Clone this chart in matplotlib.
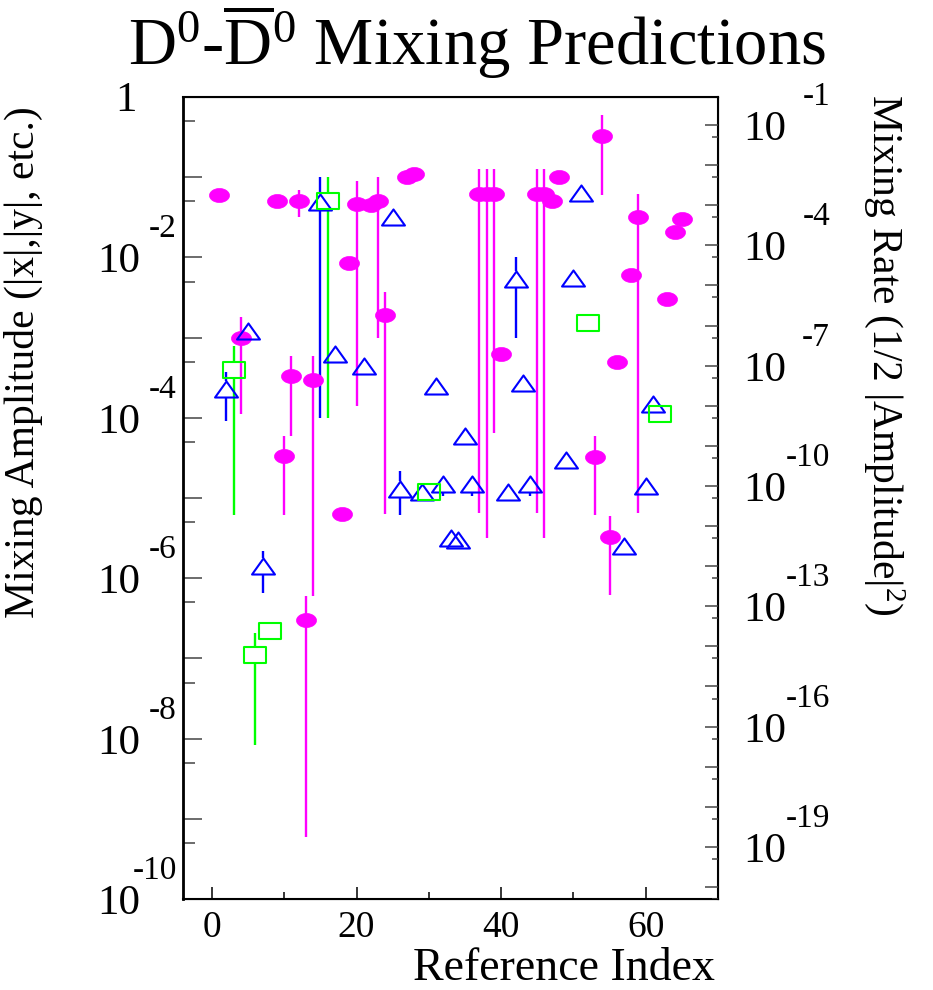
import numpy as np
import matplotlib
matplotlib.use('Agg')
import matplotlib.pyplot as plt
from matplotlib.path import Path
from matplotlib.ticker import FixedLocator, NullFormatter
from matplotlib.transforms import blended_transform_factory, offset_copy

plt.rcParams['font.family'] = ['Liberation Serif', 'DejaVu Serif']
plt.rcParams['mathtext.fontset'] = 'custom'
plt.rcParams['mathtext.rm'] = 'Liberation Serif'
plt.rcParams['mathtext.it'] = 'Liberation Serif:italic'
plt.rcParams['mathtext.bf'] = 'Liberation Serif:bold'

nan = np.nan

# magenta filled points: index, amplitude, error low / high (nan = none)
mag_x = [1, 4, 9, 10, 11, 12, 13, 14, 18, 19, 20, 22, 23, 24, 27, 28,
         37, 38, 39, 40, 45, 46, 47, 48, 53, 54, 55, 56, 58, 59, 63, 64, 65]
mag_y = [6.0e-2, 9.8e-4, 5.0e-2, 3.3e-5, 3.3e-4, 5.0e-2, 3.0e-7, 3.0e-4,
         6.3e-6, 8.5e-3, 4.6e-2, 4.5e-2, 5.1e-2, 1.9e-3, 1.0e-1, 1.1e-1,
         6.2e-2, 6.2e-2, 6.2e-2, 6.3e-4, 6.2e-2, 6.2e-2, 5.0e-2, 1.0e-1,
         3.2e-5, 3.3e-1, 3.3e-6, 5.0e-4, 6.0e-3, 3.2e-2, 3.0e-3, 2.1e-2, 3.0e-2]
mag_lo = [nan, 1.1e-4, nan, 6.2e-6, 6.0e-5, 3.2e-2, 6.0e-10, 6.0e-7,
          nan, nan, 1.4e-4, nan, 1.0e-3, 6.3e-6, nan, nan,
          6.5e-6, 3.2e-6, 6.5e-5, nan, 6.5e-6, 3.2e-6, nan, nan,
          6.2e-6, 6.0e-2, 6.2e-7, nan, nan, 6.5e-6, nan, nan, nan]
mag_hi = [nan, 1.8e-3, nan, 5.9e-5, 5.9e-4, 6.9e-2, 6.0e-7, 5.9e-4,
          nan, nan, 8.9e-2, nan, 1.0e-1, 3.7e-3, nan, nan,
          1.26e-1, 1.26e-1, 1.26e-1, nan, 1.26e-1, 1.26e-1, nan, nan,
          5.9e-5, 6.0e-1, 5.9e-6, nan, nan, 6.2e-2, nan, nan, nan]

# blue open triangles
tri_x = [2, 5, 7, 15, 17, 21, 25, 26, 29, 31, 32, 33, 34, 35, 36, 41, 42,
         43, 44, 49, 50, 51, 57, 60, 61]
tri_y = [2.3e-4, 1.2e-3, 1.4e-6, 4.9e-2, 6.2e-4, 4.4e-4, 3.2e-2, 1.3e-5,
         1.2e-5, 2.5e-4, 1.5e-5, 3.2e-6, 3.0e-6, 6.0e-5, 1.5e-5, 1.2e-5,
         5.4e-3, 2.7e-4, 1.5e-5, 3.0e-5, 5.5e-3, 6.3e-2, 2.5e-6, 1.4e-5, 1.5e-4]
tri_lo = [9.1e-5, nan, 6.6e-7, 1.0e-4, nan, nan, nan, 6.2e-6,
          nan, nan, 1.05e-5, nan, nan, nan, 1.05e-5, nan,
          1.0e-3, nan, 1.05e-5, nan, nan, nan, nan, nan, nan]
tri_hi = [3.7e-4, nan, 2.2e-6, 1.0e-1, nan, nan, nan, 2.2e-5,
          nan, nan, 1.5e-5, nan, nan, nan, 1.5e-5, nan,
          1.0e-2, nan, 1.5e-5, nan, nan, nan, nan, nan, nan]

# green open squares
sq_x = [3, 6, 8, 16, 30, 52, 62]
sq_y = [4.0e-4, 1.1e-7, 2.2e-7, 5.0e-2, 1.2e-5, 1.5e-3, 1.1e-4]
sq_lo = [6.2e-6, 8.3e-9, nan, 1.0e-4, nan, nan, nan]
sq_hi = [7.8e-4, 2.1e-7, nan, 1.0e-1, nan, nan, nan]

left_exp = list(range(0, -11, -1))
left_label_exp = [0, -2, -4, -6, -8, -10]
right_exp = list(range(-1, -21, -1))
right_label_exp = [-1, -4, -7, -10, -13, -16, -19]


def closed(verts):
    verts = list(verts) + [(0, 0)]
    return Path(verts, closed=True)


t = np.linspace(0, 2 * np.pi, 64)
ellipse = closed(np.column_stack([np.cos(t), 0.7 * np.sin(t)])[:-1])
triangle = closed([(-1, -0.7), (1, -0.7), (0, 0.7)])
rectangle = closed([(-1, -0.72), (1, -0.72), (1, 0.72), (-1, 0.72)])


def draw_errors(ax, x, y, lo, hi, color, gap):
    for xi, yi, l, h in zip(x, y, lo, hi):
        if np.isnan(l):
            continue
        below = yi / 10 ** gap
        above = yi * 10 ** gap
        if l < below:
            ax.vlines(xi, l, below, color=color, lw=1.7, zorder=2)
        if h > above:
            ax.vlines(xi, above, h, color=color, lw=1.7, zorder=2)


def power_labels(fig, ax, exps, base_dx, exp_dx, side):
    # ROOT style "10" with raised exponent
    trans = blended_transform_factory(ax.transAxes, ax.transData)
    x0 = 0 if side == 'left' else 1
    for k in exps:
        if k == 0:
            ax.text(x0, 1.0, '1', fontsize=31, ha='right', va='baseline',
                    transform=offset_copy(trans, fig=fig, x=-46, y=-14, units='dots'))
            continue
        ax.text(x0, 10.0 ** k, '10', fontsize=31,
                ha='right' if side == 'left' else 'left', va='baseline',
                transform=offset_copy(trans, fig=fig, x=base_dx, y=-15, units='dots'))
        ax.text(x0, 10.0 ** k, '-%d' % -k, fontsize=24, ha='right', va='baseline',
                transform=offset_copy(trans, fig=fig, x=exp_dx, y=20, units='dots'))


fig = plt.figure(figsize=(9.33, 9.9), dpi=100)
ax = fig.add_axes([183 / 933, 1 - 899 / 990, 535 / 933, 802 / 990])

magenta, blue, green = '#ff00ff', '#0000ff', '#00ff00'

draw_errors(ax, mag_x, mag_y, mag_lo, mag_hi, magenta, 0.0)
ax.plot(mag_x, mag_y, ls='none', marker=ellipse, ms=14.4, mfc=magenta,
        mec=magenta, mew=0.5, zorder=3)
draw_errors(ax, tri_x, tri_y, tri_lo, tri_hi, blue, 0.1)
ax.plot(tri_x, tri_y, ls='none', marker=triangle, ms=16.5, mfc='none',
        mec=blue, mew=1.5, zorder=4)
draw_errors(ax, sq_x, sq_y, sq_lo, sq_hi, green, 0.1)
ax.plot(sq_x, sq_y, ls='none', marker=rectangle, ms=15.5, mfc='none',
        mec=green, mew=1.5, zorder=5)

ax.set_yscale('log')
ax.set_xlim(-4, 70)
ax.set_ylim(1e-10, 1)

ax.set_xticks([0, 20, 40, 60])
ax.set_xticks([10, 30, 50, 70], minor=True)
ax.yaxis.set_major_locator(FixedLocator([10.0 ** k for k in left_exp]))
ax.yaxis.set_minor_locator(FixedLocator([5 * 10.0 ** (k - 1) for k in left_exp]))
ax.yaxis.set_minor_formatter(NullFormatter())

tick_col = '#444444'
ax.tick_params(axis='y', which='major', direction='in', length=13.7, width=1.1,
               left=True, right=False, labelleft=False, color=tick_col)
ax.tick_params(axis='y', which='minor', direction='in', length=8.6, width=1.1,
               left=True, right=False, color=tick_col)
ax.tick_params(axis='x', which='major', direction='in', length=8.6, width=1.1,
               top=False, labelsize=27, pad=8, color='black')
ax.tick_params(axis='x', which='minor', direction='in', length=5, width=1.1,
               top=False, color='black')

for side in ['top', 'right', 'bottom']:
    ax.spines[side].set_linewidth(1.5)
ax.spines['left'].set_linewidth(2.0)

rate = ax.twinx()
rate.set_yscale('log')
rate.set_ylim(0.5 * 1e-20, 0.5)
rate.yaxis.set_major_locator(FixedLocator([10.0 ** k for k in right_exp]))
rate.yaxis.set_minor_locator(FixedLocator([5 * 10.0 ** (k - 1) for k in right_exp]))
rate.yaxis.set_minor_formatter(NullFormatter())
rate.tick_params(axis='y', which='major', direction='in', length=9.4, width=1.1,
                 labelright=False, color=tick_col)
rate.tick_params(axis='y', which='minor', direction='in', length=4.3, width=1.1,
                 color=tick_col)

power_labels(fig, ax, left_label_exp, -43, -6, 'left')
power_labels(fig, rate, right_label_exp, 25, 112, 'right')

ax.set_ylabel('Mixing Amplitude (|x|,|y|, etc.)', fontsize=30)
ax.yaxis.set_label_coords(-0.262, 0.670)
rate.set_ylabel(r'Mixing Rate (1/2 |Amplitude|$^2$)', fontsize=30, rotation=-90,
                va='center')
rate.yaxis.set_label_coords(1.312, 0.679)
ax.set_xlabel('Reference Index', fontsize=33, ha='right', va='baseline')
ax.xaxis.set_label_coords(0.994, -0.101)

fig.suptitle(r'D$^0$-$\overline{\mathrm{D}}^0$ Mixing Predictions', x=0.511,
             y=0.934, va='baseline', fontsize=48)

fig.savefig('out.png', dpi=100)
